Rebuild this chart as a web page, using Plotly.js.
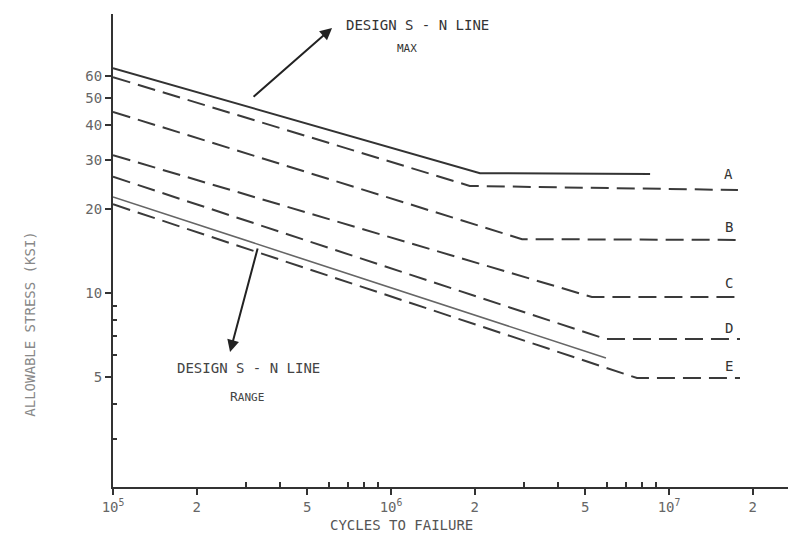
<!DOCTYPE html>
<html>
<head>
<meta charset="utf-8">
<script src="https://cdn.plot.ly/plotly-3.0.1.min.js"></script>
<style>html,body{margin:0;padding:0;background:#fff;}#chart{width:788px;height:544px;}</style>
</head>
<body>
<div id="chart"></div>
<script>
// Cycles to failure (x) and allowable stress in ksi (y)
const maxN = [1e5, 2.09e6, 8.55e6];
const maxS = [64, 26.9, 26.7];
const aN = [1e5, 1.92e6, 1.77e7];
const aS = [59.4, 24.2, 23.4];
const bN = [1e5, 2.96e6, 1.77e7];
const bS = [44.6, 15.6, 15.5];
const cN = [1e5, 5.28e6, 1.77e7];
const cS = [31.2, 9.68, 9.68];
const dN = [1e5, 5.93e6, 1.8e7];
const dS = [26.1, 6.84, 6.84];
const eN = [1e5, 7.67e6, 1.8e7];
const eS = [20.8, 4.96, 4.96];
const rangeN = [1e5, 5.93e6];
const rangeS = [22.1, 5.85];

const categories = ["A", "B", "C", "D", "E"];
const labelN = 1.64e7;
const labelS = [26.8, 17.2, 10.86, 7.5, 5.47];

const xTickVals = [1e5, 2e5, 5e5, 1e6, 2e6, 5e6, 1e7, 2e7];
const xTickText = ["10<sup>5</sup>", "2", "5", "10<sup>6</sup>", "2", "5", "10<sup>7</sup>", "2"];
const xMinorVals = [3e5, 4e5, 6e5, 7e5, 8e5, 9e5, 3e6, 4e6, 6e6, 7e6, 8e6, 9e6];
const yTickVals = [5, 10, 20, 30, 40, 50, 60];
const yTickText = ["5", "10", "20", "30", "40", "50", "60"];
const yMinorVals = [3, 4, 6, 7, 8, 9];

const FONT = "'DejaVu Sans Mono', 'Liberation Mono', monospace";
const INK = "#3a3a3a";
const dash = "18px,8px";

function dashed(x, y, name) {
  return {x: x, y: y, name: name, mode: "lines", type: "scatter",
          line: {color: INK, width: 2, dash: dash}, hoverinfo: "skip"};
}
const traces = [
  {x: maxN, y: maxS, name: "max", mode: "lines", type: "scatter",
   line: {color: "#333", width: 2}, hoverinfo: "skip"},
  dashed(aN, aS, "A"), dashed(bN, bS, "B"), dashed(cN, cS, "C"),
  dashed(dN, dS, "D"), dashed(eN, eS, "E"),
  {x: rangeN, y: rangeS, name: "range", mode: "lines", type: "scatter",
   line: {color: "#666", width: 1.6}, hoverinfo: "skip"}
];

const L = Math.log10;
const annotations = categories.map((c, i) => ({
  x: L(labelN), y: L(labelS[i]), xref: "x", yref: "y", text: c, showarrow: false,
  font: {family: FONT, size: 14, color: "#333"}
}));
annotations.push(
  {x: 6.095, y: 1.961, xref: "x", yref: "y", text: "DESIGN S - N LINE", showarrow: false,
   font: {family: FONT, size: 14, color: "#333"}},
  {x: 6.058, y: 1.878, xref: "x", yref: "y", text: "MAX", showarrow: false,
   font: {family: FONT, size: 11, color: "#333"}},
  {x: 5.486, y: 0.731, xref: "x", yref: "y", text: "DESIGN S - N LINE", showarrow: false,
   font: {family: FONT, size: 14, color: "#444"}},
  {x: 5.482, y: 0.631, xref: "x", yref: "y", text: "R<span style='font-size:11px'>ANGE</span>", showarrow: false,
   font: {family: FONT, size: 13, color: "#444"}},
  {x: 5.788, y: 1.950, xref: "x", yref: "y", text: "", showarrow: true, ax: -80, ay: 70,
   arrowhead: 2, arrowsize: 1.2, arrowwidth: 2, arrowcolor: "#222"},
  {x: 5.421, y: 0.789, xref: "x", yref: "y", text: "", showarrow: true, ax: 28, ay: -105,
   arrowhead: 2, arrowsize: 1.2, arrowwidth: 2, arrowcolor: "#222"},
  {x: -0.138, y: 0.345, xref: "paper", yref: "paper", text: "ALLOWABLE STRESS (KSI)", showarrow: false,
   textangle: -90, font: {family: FONT, size: 14, color: "#888"}},
  {x: 0.428, y: -0.101, xref: "paper", yref: "paper", text: "CYCLES TO FAILURE", showarrow: false,
   font: {family: FONT, size: 14, color: "#555"}}
);

const layout = {
  width: 788, height: 544,
  margin: {l: 113, r: 0, t: 14, b: 57, pad: 0},
  paper_bgcolor: "#fff", plot_bgcolor: "#fff",
  showlegend: false,
  font: {family: FONT, color: "#444"},
  xaxis: {
    type: "log", range: [5, 7.428], showgrid: false, zeroline: false,
    showline: true, linecolor: "#333", linewidth: 2,
    tickmode: "array", tickvals: xTickVals, ticktext: xTickText,
    ticks: "outside", ticklen: 6, tickwidth: 2, tickcolor: "#333",
    tickfont: {family: FONT, size: 14, color: "#666"},
    minor: {tickmode: "array", tickvals: xMinorVals, ticks: "inside", ticklen: 5, tickwidth: 2, tickcolor: "#333", showgrid: false}
  },
  yaxis: {
    type: "log", range: [0.305, 2], showgrid: false, zeroline: false,
    showline: true, linecolor: "#333", linewidth: 2,
    tickmode: "array", tickvals: yTickVals, ticktext: yTickText,
    ticks: "outside", ticklen: 6, tickwidth: 2, tickcolor: "#333",
    tickfont: {family: FONT, size: 14, color: "#666"},
    minor: {tickmode: "array", tickvals: yMinorVals, ticks: "inside", ticklen: 4, tickwidth: 2, tickcolor: "#333", showgrid: false}
  },
  annotations: annotations
};

Plotly.newPlot("chart", traces, layout, {staticPlot: true, displayModeBar: false});
</script>
</body>
</html>
